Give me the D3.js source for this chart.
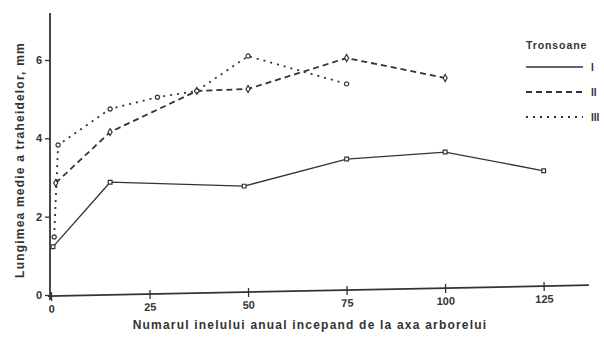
<!DOCTYPE html>
<html>
<head>
<meta charset="utf-8">
<script src="https://cdn.jsdelivr.net/npm/d3@7"></script>
<style>
  html, body { margin: 0; padding: 0; background: #fff; }
  svg { display: block; }
  text { font-family: "Liberation Sans", Arial, sans-serif; font-weight: bold; fill: #333; }
</style>
</head>
<body>
<svg id="chart" width="604" height="350"></svg>
<script>
// Mean tracheid length (mm) by annual ring number, counted from the pith, for three trunk sections
const ringsI   = [0.5, 15, 49, 75, 100, 125];
const lengthI  = [1.23, 2.88, 2.78, 3.47, 3.65, 3.17];
const ringsII  = [1.2, 15, 37, 50, 75, 100];
const lengthII = [2.86, 4.16, 5.21, 5.26, 6.05, 5.54];
const ringsIII  = [0.8, 1.8, 15, 27, 37, 50, 75];
const lengthIII = [1.48, 3.83, 4.75, 5.05, 5.21, 6.1, 5.39];

const xTicks = [0, 25, 50, 75, 100, 125];
const yTicks = [0, 2, 4, 6];
const sectionNames = ["I", "II", "III"];

const svg = d3.select("#chart");
const ink = "#333";

const x = d3.scaleLinear().domain([0, 137]).range([51, 591]);
const y = d3.scaleLinear().domain([0, 6]).range([295, 60]);

// Y axis
const yAxis = svg.append("g").attr("transform", `translate(${x(0) - 1},0)`)
  .call(d3.axisLeft(y).tickValues(yTicks).tickSize(5).tickPadding(3).tickFormat(d3.format("d")));
yAxis.select(".domain").remove();
yAxis.selectAll(".tick line").attr("stroke", ink).attr("stroke-width", 1.3);
yAxis.selectAll(".tick text").attr("font-size", 11).style("fill", ink);
yAxis.append("line")
  .attr("x1", 0).attr("x2", 0).attr("y1", 13).attr("y2", 300)
  .attr("stroke", ink).attr("stroke-width", 1.8);

// X axis, drawn with a slight upward slant
const xAxis = svg.append("g")
  .attr("transform", `translate(0,${y(0) + 1}) rotate(-1.15, ${x(0)}, 0)`)
  .call(d3.axisBottom(x).tickValues(xTicks).tickSize(5).tickPadding(4).tickSizeOuter(0));
xAxis.select(".domain").remove();
xAxis.selectAll(".tick line").attr("stroke", ink).attr("stroke-width", 1.3).attr("y1", -4);
xAxis.selectAll(".tick text").attr("font-size", 11).style("fill", ink);
xAxis.append("line")
  .attr("x1", x(0) - 3).attr("x2", 589).attr("y1", 0).attr("y2", 0)
  .attr("stroke", ink).attr("stroke-width", 1.8);

// Axis titles
svg.append("text")
  .attr("transform", `translate(24,${160}) rotate(-90)`)
  .attr("text-anchor", "middle")
  .attr("font-size", 12)
  .style("letter-spacing", "1.2px")
  .text("Lungimea medie a traheidelor,  mm");

svg.append("text")
  .attr("x", 310).attr("y", 329)
  .attr("text-anchor", "middle")
  .attr("font-size", 12)
  .style("letter-spacing", "1.2px")
  .text("Numarul inelului anual incepand de la axa arborelui");

// Series
const series = [
  { xs: ringsI,   ys: lengthI,   dash: null,   width: 1.3, marker: "square" },
  { xs: ringsII,  ys: lengthII,  dash: "6,4",  width: 1.8, marker: "diamond" },
  { xs: ringsIII, ys: lengthIII, dash: "2,5",  width: 1.8, marker: "circle" }
];

const line = d3.line().x(d => x(d[0])).y(d => y(d[1]));

series.forEach(s => {
  const pts = s.xs.map((v, i) => [v, s.ys[i]]);
  svg.append("path")
    .datum(pts)
    .attr("d", line)
    .attr("fill", "none")
    .attr("stroke", ink)
    .attr("stroke-width", s.width)
    .attr("stroke-dasharray", s.dash);

  const sym = s.marker === "square" ? d3.symbolSquare : s.marker === "diamond" ? d3.symbolDiamond : d3.symbolCircle;
  svg.selectAll(null).data(pts).enter().append("path")
    .attr("transform", d => `translate(${x(d[0])},${y(d[1])})`)
    .attr("d", d3.symbol().type(sym).size(14))
    .attr("fill", "#fff")
    .attr("stroke", ink)
    .attr("stroke-width", 1.2);
});

// Legend
const legend = svg.append("g");
legend.append("text").attr("x", 526).attr("y", 49).attr("font-size", 10.5)
  .style("letter-spacing", "0.9px").text("Tronsoane");
const legendY = [67, 92, 117];
series.forEach((s, i) => {
  legend.append("line")
    .attr("x1", 526).attr("x2", 583)
    .attr("y1", legendY[i]).attr("y2", legendY[i])
    .attr("stroke", ink)
    .attr("stroke-width", s.width)
    .attr("stroke-dasharray", s.dash);
  legend.append("text")
    .attr("x", 591).attr("y", legendY[i] + 4)
    .attr("font-size", 10)
    .text(sectionNames[i]);
});
</script>
</body>
</html>
